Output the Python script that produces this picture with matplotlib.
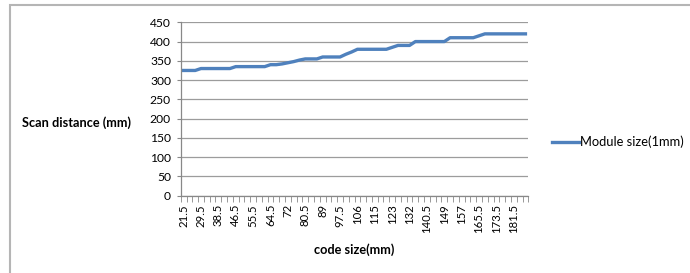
import matplotlib
matplotlib.use("Agg")
import matplotlib.pyplot as plt
from matplotlib.patches import Rectangle
import numpy as np

# data (every 3rd code size is labelled on the axis)
code_size = [21.5, 24, 27, 29.5, 32.5, 35.5, 38.5, 41, 44, 46.5,
             49.5, 52.5, 55.5, 58.5, 61.5, 64.5, 67, 69.5, 72, 75,
             78, 80.5, 83.5, 86, 89, 92, 95, 97.5, 100.5, 103,
             106, 109, 112, 115, 117.5, 120.5, 123, 126, 129, 132,
             135, 137.5, 140.5, 143.5, 146, 149, 151.5, 154.5, 157, 160,
             163, 165.5, 168, 171, 173.5, 176.5, 179, 181.5, 184.5, 187.5]
scan_distance = [325, 325, 325, 330, 330, 330, 330, 330, 330, 335,
                 335, 335, 335, 335, 335, 340, 340, 342, 345, 348,
                 352, 355, 355, 355, 360, 360, 360, 360, 367, 373,
                 380, 380, 380, 380, 380, 380, 385, 390, 390, 390,
                 400, 400, 400, 400, 400, 400, 410, 410, 410, 410,
                 410, 415, 420, 420, 420, 420, 420, 420, 420, 420]
series_name = "Module size(1mm)"
y_ticks = list(range(0, 451, 50))

plt.rcParams['font.family'] = ['Lato', 'DejaVu Sans']

fig = plt.figure(figsize=(6.9, 2.73), dpi=100)
ax = fig.add_axes([0.2619, 0.2832, 0.5038, 0.6351])

x = np.arange(len(code_size))
line, = ax.plot(x, scan_distance, color='#4F81BD', lw=2.4,
                solid_joinstyle='round', label=series_name)

ax.set_xlim(-0.5, len(code_size) - 0.5)
ax.set_ylim(0, 450)
ax.set_yticks(y_ticks)
ax.tick_params(axis='y', labelsize=8.7, length=3, color='#888888', pad=4)
ax.yaxis.grid(True, color='#9c9c9c', lw=0.9)
ax.set_axisbelow(True)

# labels every third category, tick marks between categories
ax.set_xticks(x[::3])
ax.set_xticklabels([f"{v:g}" for v in code_size[::3]], rotation=90)
ax.set_xticks(np.arange(len(code_size) + 1) - 0.5, minor=True)
ax.tick_params(axis='x', which='major', length=0, labelsize=8.2, pad=6)
ax.tick_params(axis='x', which='minor', length=4, color='#888888')

for s in ['top', 'right']:
    ax.spines[s].set_visible(False)
for s in ['left', 'bottom']:
    ax.spines[s].set_color('#888888')
    ax.spines[s].set_linewidth(0.9)

fig.text(77 / 690, 1 - 123 / 273, "Scan distance (mm)", fontsize=9.2,
         fontweight='bold', ha='center', va='center')
fig.text(354 / 690, 1 - 250 / 273, "code size(mm)", fontsize=9.2,
         fontweight='bold', ha='center', va='center')

fig.legend(handles=[line], loc='center left',
           bbox_to_anchor=(552 / 690, 1 - 142 / 273), frameon=False,
           fontsize=9.3, handlelength=2.1, handletextpad=0.1,
           borderaxespad=0, borderpad=0)

# outer chart frame
fig.add_artist(Rectangle((10 / 690, -0.1), 1.0, 1.1 - 5 / 273,
                         transform=fig.transFigure, fill=False,
                         edgecolor='#b5b5b5', lw=1.5))

fig.savefig("out.png", dpi=100)
